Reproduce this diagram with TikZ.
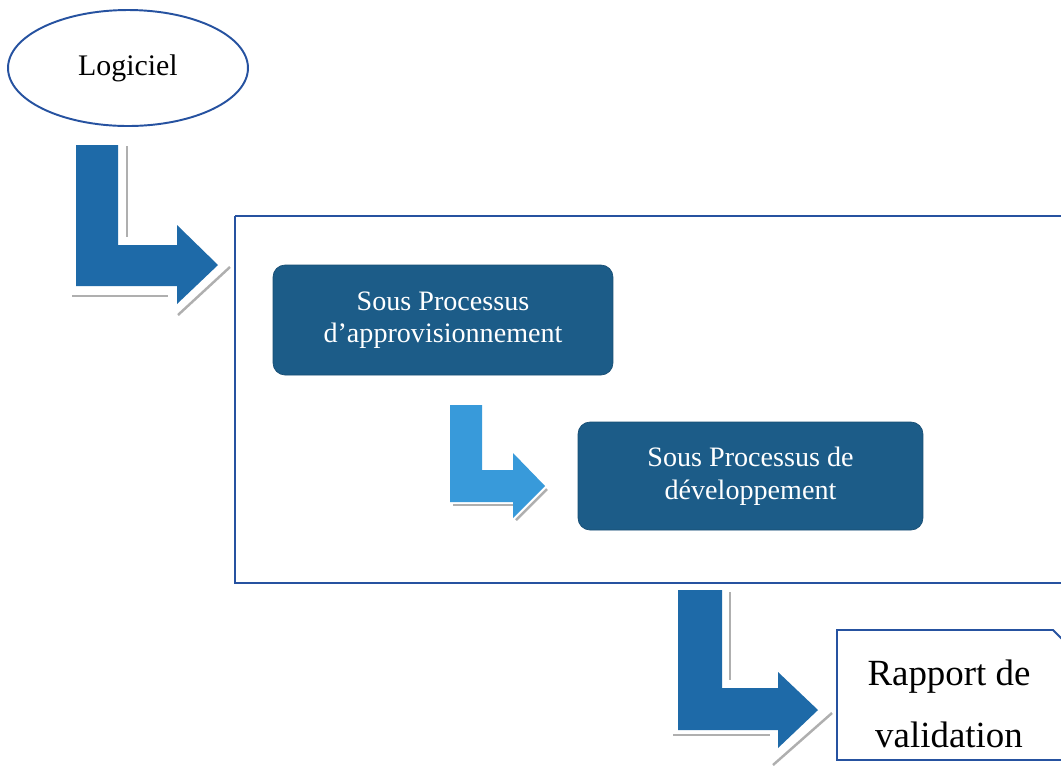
\documentclass[tikz,border=0pt]{standalone}
\usepackage{fontspec}
\setmainfont{Liberation Serif}
\usetikzlibrary{shapes.geometric}
\definecolor{bendblue}{RGB}{30,106,168}
\definecolor{bendlight}{RGB}{56,154,218}
\definecolor{procfill}{RGB}{28,92,136}
\definecolor{framecol}{RGB}{38,82,160}
\definecolor{shadegray}{RGB}{175,175,175}
\tikzset{
  procbox/.style={rectangle, rounded corners=0.24cm, fill=procfill, draw=procfill!85!black,
    line width=0.4pt, text=white, align=center,
    font=\fontsize{16pt}{18.5pt}\selectfont},
  bendarrow/.style={fill=bendblue, draw=none},
  bendarrowlight/.style={fill=bendlight, draw=none},
  shadeline/.style={draw=shadegray, line width=1.4pt},
  framebox/.style={draw=framecol, line width=1.1pt},
}
\begin{document}
\begin{tikzpicture}[x=0.02cm, y=-0.02cm]
  \useasboundingbox (0,0) rectangle (1061,769);
  \clip (0,0) rectangle (1061,769);
  \fill[white] (0,0) rectangle (1061,769);

  % start node
  \node[ellipse, draw=framecol, line width=1.1pt, minimum width=4.8cm, minimum height=2.32cm,
        font=\fontsize{17pt}{20pt}\selectfont] (logiciel) at (128,68) {Logiciel};

  % first bent arrow
  \draw[shadeline] (127,146) -- (127,237);
  \draw[shadeline] (72,296) -- (168,296);
  \draw[shadeline] (178,315) -- (230,267);
  \path[bendarrow] (76,145) -- (118,145) -- (118,245) -- (177,245) -- (177,225)
     -- (218,265) -- (177,304) -- (177,286) -- (76,286) -- cycle;

  % process frame
  \draw[framebox] (235,216) -- (1075,216) (235,216) -- (235,583) -- (1075,583);
  \coordinate (frameleft) at (235,400);

  \node[procbox, minimum width=6.8cm, minimum height=2.2cm] (appro) at (443,320)
    {Sous Processus\\d’approvisionnement};

  % second bent arrow
  \draw[shadeline] (453,505) -- (513,505);
  \draw[shadeline] (516,520) -- (547,489);
  \path[bendarrowlight] (450,405) -- (482,405) -- (482,470) -- (513,470) -- (513,453)
     -- (545,486) -- (513,518) -- (513,502) -- (450,502) -- cycle;

  \node[procbox, minimum width=6.9cm, minimum height=2.16cm] (dev) at (750.5,476)
    {Sous Processus de\\développement};

  % third bent arrow
  \draw[shadeline] (730,592) -- (730,680);
  \draw[shadeline] (673,735) -- (770,735);
  \draw[shadeline] (773,765) -- (832,713);
  \path[bendarrow] (678,590) -- (722,590) -- (722,688) -- (778,688) -- (778,672)
     -- (818,710) -- (778,748) -- (778,730) -- (678,730) -- cycle;

  % output document
  \draw[framebox] (1068,645) -- (1053,630) -- (837,630) -- (837,760) -- (1075,760);
  \node[align=center, font=\fontsize{21pt}{35pt}\selectfont] (rapport) at (949,704)
    {Rapport de\\validation};
\end{tikzpicture}
\end{document}
